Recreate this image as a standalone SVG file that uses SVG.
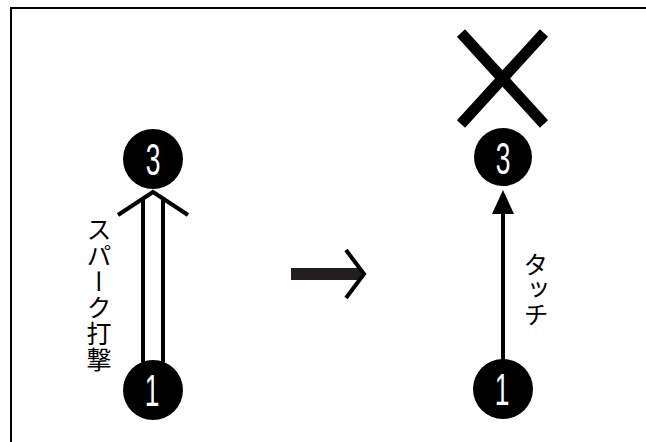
<svg xmlns="http://www.w3.org/2000/svg" width="646" height="442" viewBox="0 0 646 442">
<style>
.dot{fill:#000}
.num{fill:#fff;font-family:"Liberation Sans",Arial,sans-serif;font-size:44px;text-anchor:middle}
.ln{stroke:#000;stroke-width:4;fill:none}
.lbl{font-family:"Noto Sans CJK JP","Noto Sans",sans-serif;font-size:25px;fill:#000}
</style>
<path d="M11,442 V8 H646" fill="none" stroke="#000" stroke-width="2"/>
<g id="connectors">
<line class="ln" x1="143" y1="362" x2="143" y2="200"/>
<line class="ln" x1="163" y1="362" x2="163" y2="200"/>
<polyline class="ln" points="118,215 153,192 188,215"/>
<rect x="291" y="268" width="70" height="12" fill="#231f20"/>
<polyline class="ln" points="346,250 364,274 346,298"/>
<line class="ln" x1="503" y1="362" x2="503" y2="212"/>
<path d="M492,214 L503,190 L514,214 z" fill="#000"/>
</g>
<g id="node-left-3">
<circle class="dot" cx="153" cy="159" r="30"/>
<text class="num" transform="translate(153,175) scale(0.6,1)">3</text>
</g>
<g id="node-left-1">
<circle class="dot" cx="153" cy="390" r="30"/>
<text class="num" transform="translate(152,406) scale(0.6,1)">1</text>
</g>
<g id="label-spark">
<text class="lbl" x="99" y="217" style="writing-mode:vertical-rl;text-orientation:upright;letter-spacing:1px">スパーク打撃</text>
</g>
<g id="node-right-x">
<path d="M461,33 L544,124 M544,33 L461,124" stroke="#000" stroke-width="11" fill="none"/>
</g>
<g id="node-right-3">
<circle class="dot" cx="503" cy="157" r="29"/>
<text class="num" transform="translate(503,174) scale(0.6,1)">3</text>
</g>
<g id="node-right-1">
<circle class="dot" cx="503" cy="389" r="30"/>
<text class="num" transform="translate(502,405) scale(0.6,1)">1</text>
</g>
<g id="label-touch">
<text class="lbl" x="536" y="252" style="writing-mode:vertical-rl;text-orientation:upright">タッチ</text>
</g>
</svg>
